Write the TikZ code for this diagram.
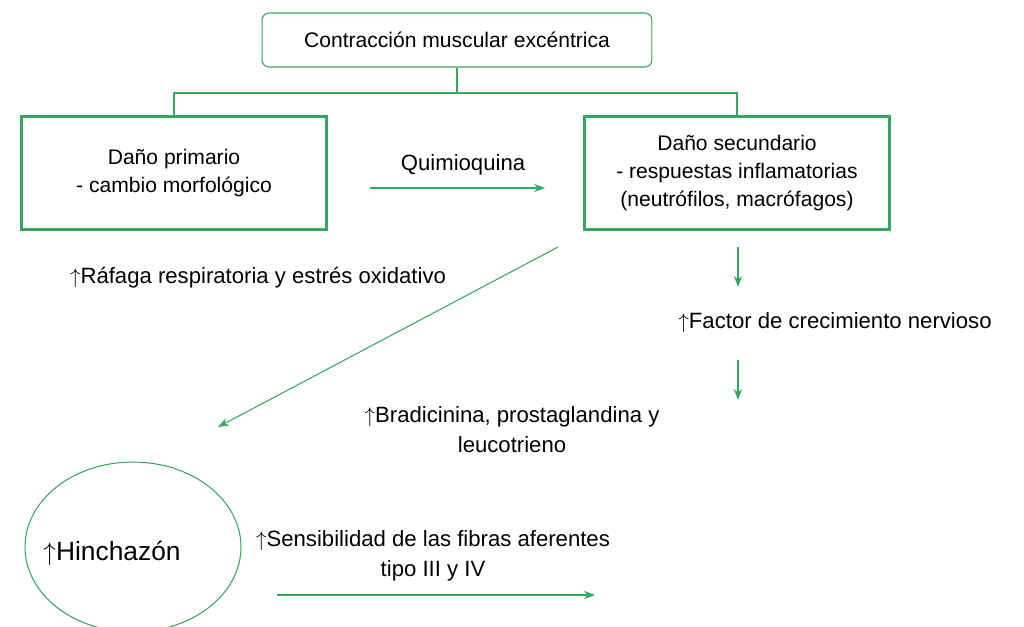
\documentclass[tikz,border=0pt]{standalone}
\usepackage{fontspec}
\setmainfont{Liberation Sans}
\usetikzlibrary{arrows.meta, shapes.geometric}
\definecolor{verde}{RGB}{52,168,96}
\begin{document}
\begin{tikzpicture}[
    x=0.02cm, y=-0.02cm,
    >={Stealth[length=2.2mm]},
    every node/.style={font=\fontsize{12}{16}\selectfont, align=center},
    topbox/.style={draw=verde, line width=0.6pt, rounded corners=4pt, minimum width=7.8cm, minimum height=1.08cm},
    damage/.style={draw=verde, line width=1.4pt, minimum width=6.1cm, minimum height=2.26cm},
    link/.style={draw=verde, line width=0.6pt},
    arrow/.style={->, verde, line width=0.6pt},
    label/.style={text=black, font=\fontsize{12.6}{17}\selectfont},
]
\useasboundingbox (0,0) rectangle (1024,626);

% boxes
\node[topbox] (top) at (457,40) {Contracción muscular excéntrica};
\node[damage] (prim) at (174,173) {Daño primario\\- cambio morfológico};
\node[damage] (sec) at (737,173) {Daño secundario\\- respuestas inflamatorias\\(neutrófilos, macrófagos)};
\node[draw=verde, line width=0.6pt, ellipse, minimum width=4.32cm, minimum height=3.4cm] (swell) at (133,547) {};
\node[font=\fontsize{15}{18}\selectfont] (hinch) at (112,553) {$\uparrow$Hinchazón};

% tree lines
\coordinate (jn) at (457,93);
\draw[link] (top.south) -- (jn);
\draw[link] (prim.north) |- (jn) -| (sec.north);

% labels
\node[label] (quim) at (463,165) {Quimioquina};
\node[label] (rafaga) at (258,278) {$\uparrow$Ráfaga respiratoria y estrés oxidativo};
\node[label] (ngf) at (835,323) {$\uparrow$Factor de crecimiento nervioso};
\node[label] (brad) at (512,430) {$\uparrow$Bradicinina, prostaglandina y\\leucotrieno};
\node[label] (sens) at (433,556) {$\uparrow$Sensibilidad de las fibras aferentes\\tipo III y IV};

% arrows
\coordinate (q1) at (370,188); \coordinate (q2) at (545,188);
\draw[arrow] (q1) -- (q2);
\coordinate (d1) at (558,247); \coordinate (d2) at (218,427);
\draw[arrow] (d1) -- (d2);
\coordinate (a1) at (738,247); \coordinate (a2) at (738,287);
\draw[arrow] (a1) -- (a2);
\coordinate (b1) at (738,360); \coordinate (b2) at (738,400);
\draw[arrow] (b1) -- (b2);
\coordinate (s1) at (277,595); \coordinate (s2) at (595,595);
\draw[arrow] (s1) -- (s2);
\end{tikzpicture}
\end{document}
